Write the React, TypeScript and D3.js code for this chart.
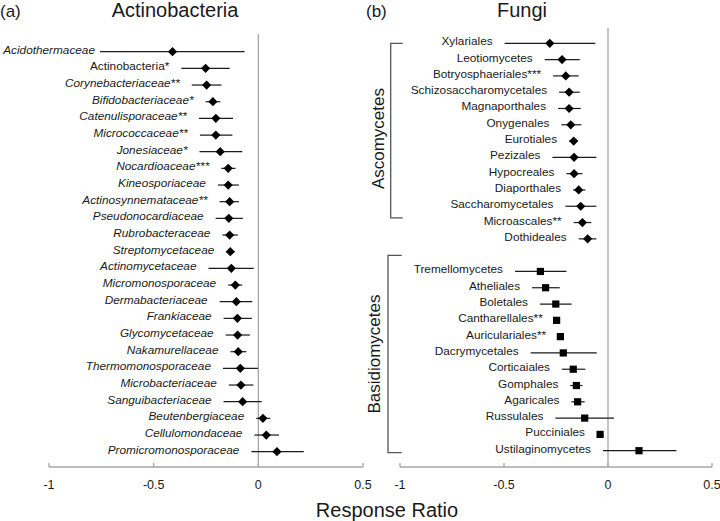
import React from "react";
import * as d3 from "d3";

const actinoNames = [
  "Acidothermaceae", "Actinobacteria*", "Corynebacteriaceae**", "Bifidobacteriaceae*",
  "Catenulisporaceae**", "Micrococcaceae**", "Jonesiaceae*", "Nocardioaceae***",
  "Kineosporiaceae", "Actinosynnemataceae**", "Pseudonocardiaceae", "Rubrobacteraceae",
  "Streptomycetaceae", "Actinomycetaceae", "Micromonosporaceae", "Dermabacteriaceae",
  "Frankiaceae", "Glycomycetaceae", "Nakamurellaceae", "Thermomonosporaceae",
  "Microbacteriaceae", "Sanguibacteriaceae", "Beutenbergiaceae", "Cellulomondaceae",
  "Promicromonosporaceae",
];
const actinoItalic = actinoNames.map((n) => n !== "Actinobacteria*");
const actinoMean = [-0.41, -0.252, -0.247, -0.217, -0.203, -0.203, -0.182, -0.144, -0.144, -0.137, -0.141, -0.137, -0.134, -0.129, -0.11, -0.105, -0.1, -0.099, -0.096, -0.086, -0.083, -0.075, 0.022, 0.038, 0.089];
const actinoLower = [-0.756, -0.368, -0.318, -0.252, -0.284, -0.279, -0.281, -0.177, -0.193, -0.185, -0.204, -0.172, -0.153, -0.238, -0.144, -0.185, -0.166, -0.156, -0.133, -0.169, -0.141, -0.166, -0.01, -0.019, -0.033];
const actinoUpper = [-0.066, -0.137, -0.176, -0.182, -0.121, -0.124, -0.077, -0.109, -0.093, -0.093, -0.074, -0.098, -0.113, -0.022, -0.077, -0.029, -0.031, -0.04, -0.057, -0.002, -0.024, 0.016, 0.057, 0.099, 0.217];

const ascoNames = [
  "Xylariales", "Leotiomycetes", "Botryosphaeriales***", "Schizosaccharomycetales",
  "Magnaporthales", "Onygenales", "Eurotiales", "Pezizales", "Hypocreales",
  "Diaporthales", "Saccharomycetales", "Microascales**", "Dothideales",
];
const ascoMean = [-0.28, -0.221, -0.203, -0.187, -0.187, -0.179, -0.165, -0.163, -0.163, -0.141, -0.131, -0.123, -0.098];
const ascoLower = [-0.497, -0.304, -0.264, -0.235, -0.24, -0.224, -0.187, -0.267, -0.2, -0.168, -0.205, -0.165, -0.141];
const ascoUpper = [-0.061, -0.136, -0.141, -0.136, -0.131, -0.128, -0.144, -0.056, -0.123, -0.109, -0.056, -0.08, -0.056];

const basidioNames = [
  "Tremellomycetes", "Atheliales", "Boletales", "Cantharellales**", "Auriculariales**",
  "Dacrymycetales", "Corticaiales", "Gomphales", "Agaricales", "Russulales",
  "Pucciniales", "Ustilaginomycetes",
];
const basidioMean = [-0.325, -0.3, -0.251, -0.247, -0.229, -0.215, -0.167, -0.152, -0.146, -0.112, -0.038, 0.149];
const basidioLower = [-0.447, -0.365, -0.327, -0.256, -0.24, -0.372, -0.221, -0.181, -0.176, -0.253, -0.053, -0.024];
const basidioUpper = [-0.2, -0.232, -0.175, -0.237, -0.216, -0.054, -0.109, -0.123, -0.112, 0.029, -0.024, 0.329];

const xTicks = [-1, -0.5, 0, 0.5];
const xTickLabels = ["-1", "-0.5", "0", "0.5"];

const FONT = "'Liberation Sans', Arial, sans-serif";
const AXIS = "#a6a6a6";
const INK = "#1a1a1a";

type Row = { name: string; mean: number; lo: number; hi: number; italic: boolean; shape: "diamond" | "square"; slot: number };

function diamond(cx: number, cy: number, r: number) {
  return `M${cx},${cy - r}L${cx + r},${cy}L${cx},${cy + r}L${cx - r},${cy}Z`;
}

function Panel({ rows, x, y, zeroTop, minEnd }: { rows: Row[]; x: d3.ScaleLinear<number, number>; y: (s: number) => number; zeroTop: number; minEnd: number }) {
  const axisY = 467;
  const [x0, x1] = x.range();
  return (
    <g>
      <line x1={x(0)} x2={x(0)} y1={zeroTop} y2={axisY} stroke={AXIS} strokeWidth={1.3} />
      <line x1={x0} x2={x1} y1={axisY} y2={axisY} stroke={AXIS} strokeWidth={1.3} />
      {xTicks.map((t, i) => (
        <g key={i}>
          <line x1={x(t)} x2={x(t)} y1={axisY} y2={axisY - 4} stroke={AXIS} strokeWidth={1.3} />
          <text x={x(t)} y={axisY + 22} textAnchor="middle" fontSize={12.5} fontFamily={FONT} fill={INK}>{xTickLabels[i]}</text>
        </g>
      ))}
      {rows.map((r, i) => {
        const cy = y(r.slot);
        return (
          <g key={i}>
            <line x1={x(r.lo)} x2={x(r.hi)} y1={cy} y2={cy} stroke={INK} strokeWidth={1.2} />
            {r.shape === "diamond" ? (
              <path d={diamond(x(r.mean), cy, 4.6)} fill="#000" />
            ) : (
              <rect x={x(r.mean) - 3.6} y={cy - 3.6} width={7.2} height={7.2} fill="#000" />
            )}
            <text x={Math.max(x(r.lo) - 12, minEnd)} y={cy + 2} textAnchor="end" fontSize={11.8} fontFamily={FONT} fontStyle={r.italic ? "italic" : "normal"} fill={INK}>{r.name}</text>
          </g>
        );
      })}
    </g>
  );
}

export default function App() {
  const xL = d3.scaleLinear().domain([-1, 0.5]).range([49, 363]);
  const xR = d3.scaleLinear().domain([-1, 0.5]).range([400, 712]);
  const yL = d3.scaleLinear().domain([0, actinoNames.length - 1]).range([51.7, 451.7]);
  const totalR = ascoNames.length + 1 + basidioNames.length;
  const yR = d3.scaleLinear().domain([0, totalR - 1]).range([43.3, 450.7]);

  const leftRows: Row[] = actinoNames.map((n, i) => ({ name: n, mean: actinoMean[i], lo: actinoLower[i], hi: actinoUpper[i], italic: actinoItalic[i], shape: "diamond", slot: i }));
  const rightRows: Row[] = [
    ...ascoNames.map((n, i) => ({ name: n, mean: ascoMean[i], lo: ascoLower[i], hi: ascoUpper[i], italic: false, shape: "diamond" as const, slot: i })),
    ...basidioNames.map((n, i) => ({ name: n, mean: basidioMean[i], lo: basidioLower[i], hi: basidioUpper[i], italic: false, shape: "square" as const, slot: ascoNames.length + 1 + i })),
  ];

  const ascTop = yR(0), ascBot = yR(ascoNames.length - 1) - 21;
  const basTop = yR(ascoNames.length + 1) - 16, basBot = yR(totalR - 1) + 2;
  const BR = "#555";

  return (
    <svg width={720} height={521} style={{ position: "absolute", left: 0, top: 0, background: "#fff" }}>
      <rect width={720} height={521} fill="#fff" />
      <text x={0} y={17} fontSize={17} fontFamily={FONT} fill={INK}>(a)</text>
      <text x={175} y={17} textAnchor="middle" fontSize={20} fontFamily={FONT} fill={INK}>Actinobacteria</text>
      <text x={366} y={17} fontSize={17} fontFamily={FONT} fill={INK}>(b)</text>
      <text x={522} y={17} textAnchor="middle" fontSize={20} fontFamily={FONT} fill={INK}>Fungi</text>

      <Panel rows={leftRows} x={xL} y={yL} zeroTop={34} minEnd={95} />
      <Panel rows={rightRows} x={xR} y={yR} zeroTop={28} minEnd={0} />

      <path d={`M402.7,${ascTop}H390.7V${ascBot}H402.7`} fill="none" stroke={BR} strokeWidth={1.3} />
      <text transform={`translate(384,${(ascTop + ascBot) / 2 + 8}) rotate(-90)`} textAnchor="middle" fontSize={17} fontFamily={FONT} fill={INK}>Ascomycetes</text>
      <path d={`M401.7,${basTop}H388V${basBot}H401.7`} fill="none" stroke={BR} strokeWidth={1.3} />
      <text transform={`translate(380,${(basTop + basBot) / 2}) rotate(-90)`} textAnchor="middle" fontSize={17} fontFamily={FONT} fill={INK}>Basidiomycetes</text>

      <text x={387} y={517} textAnchor="middle" fontSize={20} fontFamily={FONT} fill={INK}>Response Ratio</text>
    </svg>
  );
}
